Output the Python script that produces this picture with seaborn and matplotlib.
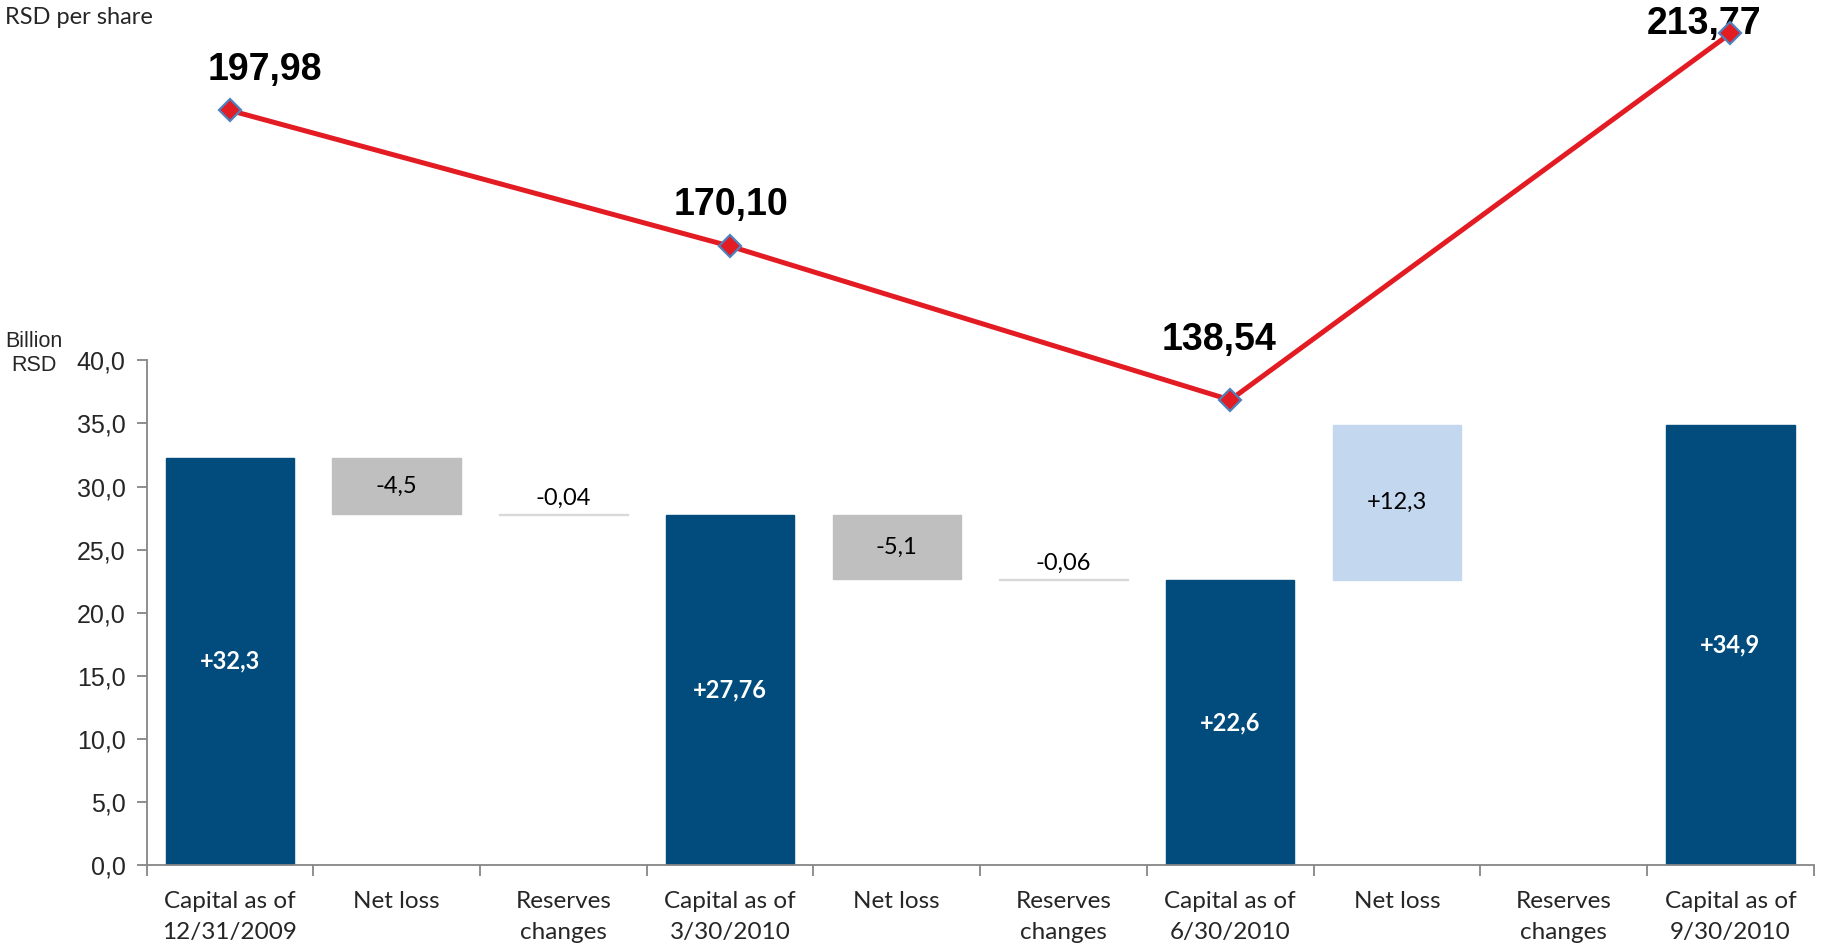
import numpy as np
import matplotlib
matplotlib.use("Agg")
import matplotlib.pyplot as plt
import seaborn as sns
import pandas as pd

# --- data -------------------------------------------------------------
categories = ["Capital as of\n12/31/2009", "Net loss", "Reserves\nchanges",
              "Capital as of\n3/30/2010", "Net loss", "Reserves\nchanges",
              "Capital as of\n6/30/2010", "Net loss", "Reserves\nchanges",
              "Capital as of\n9/30/2010"]
step_kind = ["total", "delta", "delta", "total", "delta", "delta",
             "total", "delta", "delta", "total"]
step_values = [32.3, -4.5, -0.04, 27.76, -5.1, -0.06, 22.6, 12.3, 0.0, 34.9]
step_labels = ["+32,3", "-4,5", "-0,04", "+27,76", "-5,1", "-0,06",
               "+22,6", "+12,3", "", "+34,9"]

share_positions = [0, 3, 6, 9]
share_values = [197.98, 170.10, 138.54, 213.77]
share_labels = ["197,98", "170,10", "138,54", "213,77"]

y_ticks = [0, 5, 10, 15, 20, 25, 30, 35, 40]

# --- colours ----------------------------------------------------------
DARK = "#014C7D"
GREY = "#BFBFBF"
LIGHT = "#C3D8EF"
THIN = "#D9D9D9"
RED = "#E31B23"
AXIS = "#868686"

sns.set_theme(style="white")
plt.rcParams["font.family"] = ["Liberation Sans", "DejaVu Sans"]

fig = plt.figure(figsize=(18.23, 9.46), dpi=100)
ax = fig.add_axes([0.0804, 0.0856, 0.9145, 0.9144])

# waterfall geometry
bottoms, heights, colors, edges = [], [], [], []
level = 0.0
for kind, v in zip(step_kind, step_values):
    if kind == "total":
        bottoms.append(0.0)
        heights.append(v)
        colors.append(DARK)
        level = v
    else:
        if v < 0:
            bottoms.append(level + v)
            heights.append(-v)
            colors.append(GREY if abs(v) > 0.5 else THIN)
        else:
            bottoms.append(level)
            heights.append(v)
            colors.append(LIGHT)
        level = level + v
    edges.append(colors[-1] if v != 0 else "none")

x = np.arange(len(categories))
ax.bar(x, heights, bottom=bottoms, width=0.77, color=colors,
       edgecolor=edges, linewidth=1.0, zorder=2)

label_font = ["Lato", "DejaVu Sans"]
for i, (b, h, lab, kind, v) in enumerate(zip(bottoms, heights, step_labels,
                                             step_kind, step_values)):
    if not lab:
        continue
    if kind == "total":
        ax.text(i, b + h / 2, lab, ha="center", va="center", color="white",
                fontsize=17, fontweight="bold", family=label_font, zorder=4)
    elif abs(v) < 0.5:
        ax.text(i, b + h + 0.4, lab, ha="center", va="bottom", color="black",
                fontsize=17, family=label_font, zorder=4)
    else:
        ax.text(i, b + h / 2, lab, ha="center", va="center", color="black",
                fontsize=17, family=label_font, zorder=4)

ax.set_xlim(-0.5, 9.5)
ax.set_ylim(0, 68.57)
ax.set_yticks(y_ticks)
ax.set_yticklabels([f"{t:.1f}".replace(".", ",") for t in y_ticks], fontsize=18)
ax.set_xticks(x)
ax.set_xticklabels(categories, fontsize=17.5, family=label_font,
                   linespacing=1.62)
ax.tick_params(axis="x", length=0, pad=18.5)
ax.set_xticks(np.arange(-0.5, 10.0, 1.0), minor=True)
ax.tick_params(axis="x", which="minor", length=8, width=1.3, color=AXIS,
               direction="out", bottom=True)
ax.tick_params(axis="y", length=7, width=1.3, color=AXIS, direction="out",
               left=True, pad=8)

for side in ["top", "right"]:
    ax.spines[side].set_visible(False)
ax.spines["left"].set_bounds(0, 40)
for side in ["left", "bottom"]:
    ax.spines[side].set_color(AXIS)
    ax.spines[side].set_linewidth(1.3)

# per-share line on its own scale
ax2 = ax.twinx()
ax2.set_ylim(43.07, 220.64)
ax2.axis("off")
share_df = pd.DataFrame({"pos": share_positions, "value": share_values})
sns.lineplot(data=share_df, x="pos", y="value", ax=ax2, color=RED,
             linewidth=3.6, marker="D", markersize=11,
             markerfacecolor=RED, markeredgecolor="#4F81BD",
             markeredgewidth=1.6, clip_on=False, zorder=5)
ax2.set_xlim(-0.5, 9.5)
ax2.set_xlabel("")
ax2.set_ylabel("")

label_offsets = [(25, 29), (1, 30), (-8, 43.5), (-19, 6.5)]
for p, v, lab, off in zip(share_positions, share_values, share_labels,
                          label_offsets):
    ax2.annotate(lab, (p, v), xytext=off, textcoords="offset points",
                 ha="center", va="center", fontsize=27, fontweight="bold",
                 color="black", annotation_clip=False)

fig.text(0.003, 0.9816, "RSD per share", ha="left", va="center", fontsize=17,
         family=label_font)
fig.text(0.0185, 0.6263, "Billion\nRSD", ha="center", va="center",
         fontsize=15.5, linespacing=1.19)

fig.savefig("out.png", dpi=100)
